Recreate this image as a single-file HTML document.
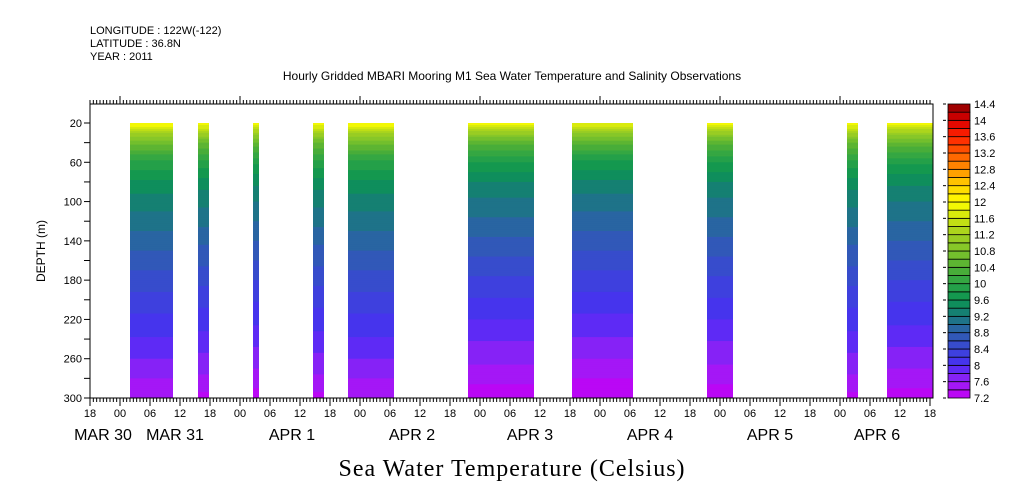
<!DOCTYPE html>
<html><head><meta charset="utf-8"><style>
html,body{margin:0;padding:0;background:#fff;}
svg{display:block;font-family:"Liberation Sans",sans-serif;}
</style></head><body>
<svg id="chart" width="1009" height="504" viewBox="0 0 1009 504">
<g font-size="11" fill="#000">
<text x="90" y="34">LONGITUDE : 122W(-122)</text>
<text x="90" y="47">LATITUDE : 36.8N</text>
<text x="90" y="60">YEAR : 2011</text>
</g>
<text x="512" y="80" font-size="12" text-anchor="middle">Hourly Gridded MBARI Mooring M1 Sea Water Temperature and Salinity Observations</text>
<g id="plot"></g>
<g id="axes"></g>
<g id="cbar"></g>
<text x="512" y="476" font-size="24" text-anchor="middle" font-family="Liberation Serif, serif" letter-spacing="1">Sea Water Temperature (Celsius)</text>
</svg>
<script>
// Data (hours since MAR 29 18:00)
const segStart = [8, 21.6, 32.6, 44.6, 51.6, 75.6, 96.4, 123.4, 151.4, 159.4];
const segEnd   = [16.6, 23.8, 33.8, 46.8, 60.8, 88.8, 108.6, 128.6, 153.6, 168.6];
const segOffset = [0.05, 0.0, -0.05, 0.0, 0.05, -0.1, -0.15, -0.1, 0.0, -0.05];
const depths = [20, 30, 40, 60, 80, 100, 140, 180, 220, 260, 300];
const baseTemp = [12.0, 11.2, 10.6, 9.9, 9.5, 9.25, 8.85, 8.45, 8.1, 7.75, 7.35];
const levels = [7.2,7.4,7.6,7.8,8.0,8.2,8.4,8.6,8.8,9.0,9.2,9.4,9.6,9.8,10.0,10.2,10.4,10.6,10.8,11.0,11.2,11.4,11.6,11.8,12.0,12.2,12.4,12.6,12.8,13.0,13.2,13.4,13.6,13.8,14.0,14.2,14.4];
const cbarLabels = ["7.2","7.6","8","8.4","8.8","9.2","9.6","10","10.4","10.8","11.2","11.6","12","12.4","12.8","13.2","13.6","14","14.4"];
const hourTicks = ["18","00","06","12","18","00","06","12","18","00","06","12","18","00","06","12","18","00","06","12","18","00","06","12","18","00","06","12","18"];
const dayLabels = ["MAR 30","MAR 31","APR  1","APR  2","APR  3","APR  4","APR  5","APR  6"];
const dayLabelHours = [2.6, 17, 40.4, 64.4, 88, 112, 136, 157.4];
const depthTicks = [20,60,100,140,180,220,260,300];

const NS="http://www.w3.org/2000/svg";
const X0=90, X1=933, Y0=104, Y1=398, PXH=5;
const xs=h=>X0+h*PXH;
const ys=d=>Y1-(300-d)*(275/280);
const stops=[[7.2,"#c400f4"],[7.6,"#9a1ef6"],[8.0,"#4a2ef4"],[8.4,"#3a46d6"],[8.8,"#2e5eae"],[9.2,"#187a7c"],[9.6,"#0c9452"],[10.0,"#2ca446"],[10.4,"#52b034"],[10.8,"#7ec42a"],[11.2,"#a2d020"],[11.6,"#cce410"],[12.0,"#ffff00"],[12.4,"#ffd200"],[12.8,"#ff9000"],[13.2,"#ff5a00"],[13.6,"#ff2400"],[14.0,"#dc0000"],[14.4,"#8c0000"]];
function hex(c){return [1,3,5].map(i=>parseInt(c.substr(i,2),16));}
function colorAt(v){
  if(v<=stops[0][0])return stops[0][1];
  for(let i=1;i<stops.length;i++){if(v<=stops[i][0]){const a=hex(stops[i-1][1]),b=hex(stops[i][1]),t=(v-stops[i-1][0])/(stops[i][0]-stops[i-1][0]);return "rgb("+a.map((x,k)=>Math.round(x+(b[k]-x)*t)).join(",")+")";}}
  return stops[stops.length-1][1];
}
function bandColor(v){let i=0;while(i<levels.length-2&&v>=levels[i+1])i++;return colorAt(levels[i]+0.1);}
function interpTemp(d){for(let i=1;i<depths.length;i++){if(d<=depths[i]){const t=(d-depths[i-1])/(depths[i]-depths[i-1]);return baseTemp[i-1]+(baseTemp[i]-baseTemp[i-1])*t;}}return baseTemp[baseTemp.length-1];}
function mk(tag,attrs,parent){const e=document.createElementNS(NS,tag);for(const k in attrs)e.setAttribute(k,attrs[k]);parent.appendChild(e);return e;}

const plot=document.getElementById('plot');
segStart.forEach((s,si)=>{
  const g=mk('g',{},plot);
  
  
  for(let d=20; d<300; d+=2){
    const v=interpTemp(d+1)+segOffset[si];
    const r=mk('rect',{x:xs(s),y:ys(d),width:xs(segEnd[si])-xs(s),height:ys(d+2)-ys(d)+0.5,fill:bandColor(v)},g);
    
    
  }
});

const ax=document.getElementById('axes');
mk('rect',{x:X0,y:Y0,width:X1-X0,height:Y1-Y0,fill:'none',stroke:'#000','stroke-width':1},ax);
for(let x=X0;x<=X1;x+=10/3){mk('line',{x1:x,x2:x,y1:Y0,y2:Y0-4,stroke:'#000'},ax);mk('line',{x1:x,x2:x,y1:Y1,y2:Y1+4,stroke:'#000'},ax);}
hourTicks.forEach((t,i)=>{
  const x=xs(i*6);
  mk('line',{x1:x,x2:x,y1:Y1,y2:Y1+8,stroke:'#000'},ax);
  if((i%4)===1)mk('line',{x1:x,x2:x,y1:Y0,y2:Y0-8,stroke:'#000'},ax);
  const tx=mk('text',{x:x,y:417,'font-size':11,'text-anchor':'middle'},ax);tx.textContent=t;
  
  
});
dayLabels.forEach((t,i)=>{
  const tx=mk('text',{x:xs(dayLabelHours[i]),y:440,'font-size':16,'text-anchor':'middle','xml:space':'preserve'},ax);tx.textContent=t;
  
  
});
for(let d=20;d<=300;d+=20){mk('line',{x1:X0,x2:X0-6,y1:ys(d),y2:ys(d),stroke:'#000'},ax);}
depthTicks.forEach(d=>{
  const tx=mk('text',{x:82,y:ys(d)+4,'font-size':11,'text-anchor':'end'},ax);tx.textContent=d;
  
  
});
const yt=mk('text',{x:0,y:0,'font-size':12,'text-anchor':'middle',transform:'translate(45,251) rotate(-90)'},ax);yt.textContent='DEPTH (m)';



const cb=document.getElementById('cbar');
const CX=948,CW=22,nb=levels.length-1,bh=(Y1-Y0)/nb;
for(let i=0;i<nb;i++){
  const r=mk('rect',{x:CX,y:Y1-(i+1)*bh,width:CW,height:bh,fill:colorAt(levels[i]+0.1),stroke:'#000','stroke-width':0.8},cb);
  
  
}
cbarLabels.forEach((t,i)=>{
  const y=Y1-i*2*bh;
  mk('line',{x1:CX-5,x2:CX-2,y1:y,y2:y,stroke:'#000'},cb);
  const tx=mk('text',{x:974,y:y+4,'font-size':11},cb);tx.textContent=t;
  
  
});
</script>
</body></html>
